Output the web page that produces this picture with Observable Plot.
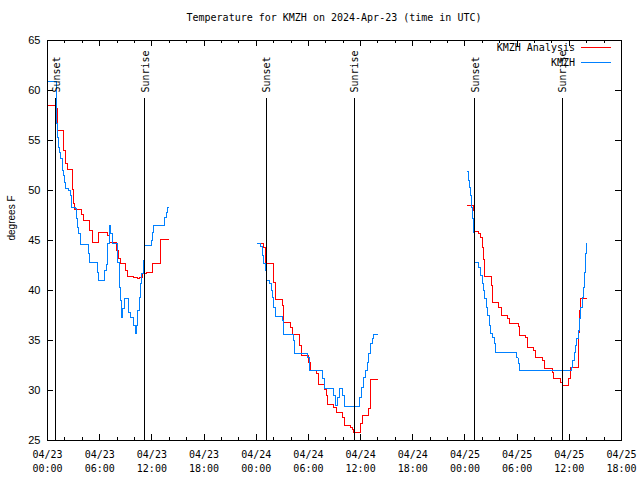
<!DOCTYPE html>
<html><head><meta charset="utf-8">
<script src="https://cdn.jsdelivr.net/npm/d3@7"></script>
<script src="https://cdn.jsdelivr.net/npm/@observablehq/plot@0.6"></script>
<style>
body{margin:0;background:#fff;}
#wrap{position:relative;width:640px;height:480px;}
#title{position:absolute;top:12px;left:47px;width:574px;text-align:center;font:10px "DejaVu Sans Mono",monospace;color:#000;}
.leg{position:absolute;font:10px "DejaVu Sans Mono",monospace;color:#000;text-align:right;width:200px;}
.sw{position:absolute;width:30px;height:0;}
</style></head><body>
<div id="wrap">
</div>
<script>
const titleText = "Temperature for KMZH on 2024-Apr-23 (time in UTC)";
const yLabel = "degrees F";
const xTickHours = [0, 6, 12, 18, 24, 30, 36, 42, 48, 54, 60, 66];
const xTickDates = ["04/23","04/23","04/23","04/23","04/24","04/24","04/24","04/24","04/25","04/25","04/25","04/25"];
const xTickTimes = ["00:00","06:00","12:00","18:00","00:00","06:00","12:00","18:00","00:00","06:00","12:00","18:00"];
const xMinorHours = [2,4,8,10,14,16,20,22,26,28,32,34,38,40,44,46,50,52,56,58,62,64];
const yTicks = [25, 30, 35, 40, 45, 50, 55, 60, 65];
const eventHours = [0.92, 11.15, 25.15, 35.27, 49.13, 59.18];
const eventLabels = ["Sunset", "Sunrise", "Sunset", "Sunrise", "Sunset", "Sunrise"];
const seriesNames = ["KMZH Analysis", "KMZH"];
const seriesColors = ["#ff0000", "#0080ff"];

// [hour since 04/23 00:00 UTC, temperature F]
const analysisDay1 = [[0.15,58.5],[0.92,58.2],[1.2,56.0],[1.87,54.0],[2.1,52.7],[2.26,52.1],[2.84,50.1],[3.03,48.7],[3.14,48.1],[3.87,47.6],[4.17,47.0],[4.86,46.0],[5.14,44.8],[5.9,45.8],[6.86,45.5],[7.13,44.8],[7.93,44.0],[8.13,43.2],[8.39,42.7],[8.97,42.0],[9.16,41.4],[9.92,41.3],[10.31,41.2],[10.61,41.3],[10.89,41.7],[11.38,41.8],[12.04,42.7],[13.0,45.1],[13.86,45.1]];
const obsDay1 = [[0.15,60.9],[1.0,56.7],[1.11,55.3],[1.23,54.3],[1.38,53.8],[1.5,53.2],[1.69,52.0],[1.87,51.5],[1.99,50.8],[2.1,50.2],[2.45,50.0],[2.64,49.5],[2.76,48.3],[3.22,48.2],[3.33,47.2],[3.48,46.3],[3.6,45.7],[3.79,44.6],[4.68,43.7],[4.86,42.8],[5.71,41.8],[5.9,41.0],[6.59,42.0],[6.78,42.6],[6.93,44.7],[7.13,46.5],[7.24,45.7],[7.44,44.7],[8.01,42.8],[8.28,40.3],[8.39,39.0],[8.51,37.3],[8.66,38.2],[8.85,39.2],[9.35,37.8],[9.54,37.3],[9.92,36.5],[10.12,35.7],[10.23,36.5],[10.38,38.0],[10.58,39.3],[10.69,40.7],[10.81,41.7],[11.0,43.0],[11.19,44.5],[11.96,45.0],[12.11,45.8],[12.22,46.5],[13.45,47.3],[13.68,47.8],[13.83,48.3],[13.9,48.3]];
const analysisDay2 = [[24.11,44.7],[24.87,44.3],[25.07,42.7],[25.95,40.8],[26.22,39.1],[26.98,38.5],[27.1,36.8],[27.94,36.3],[28.13,35.6],[29.0,34.5],[29.2,33.5],[30.05,32.8],[30.24,32.0],[30.93,31.7],[31.2,30.6],[31.85,30.1],[32.08,29.5],[32.23,28.6],[32.92,28.3],[33.23,27.8],[33.88,27.3],[34.15,26.5],[34.84,26.3],[35.04,26.1],[35.22,25.8],[35.99,26.7],[36.18,27.5],[36.9,28.2],[37.14,31.1],[37.9,31.1]];
const obsDay2 = [[24.11,44.7],[24.49,44.4],[24.68,43.5],[24.87,42.7],[25.07,42.0],[25.14,41.0],[25.56,40.7],[25.72,40.0],[25.87,39.3],[26.03,38.3],[26.22,37.4],[26.98,37.0],[27.1,35.6],[28.25,35.0],[28.44,33.7],[29.93,33.3],[30.16,32.0],[31.58,31.2],[31.85,30.2],[32.92,29.5],[33.1,28.5],[33.38,29.3],[33.6,30.2],[33.95,29.5],[34.18,28.4],[35.91,29.3],[36.1,30.3],[36.3,31.3],[36.56,32.0],[36.76,32.8],[36.95,33.7],[37.14,34.7],[37.33,35.2],[37.52,35.6],[37.9,35.6]];
const analysisDay3 = [[48.26,48.5],[48.95,48.0],[49.15,45.9],[49.6,45.7],[49.79,45.3],[49.99,44.3],[50.1,43.1],[50.29,41.4],[51.0,40.5],[51.13,38.8],[51.9,38.3],[52.16,37.5],[52.93,37.2],[53.12,36.7],[54.12,36.4],[54.27,35.5],[54.96,35.3],[55.16,34.3],[55.92,34.0],[56.11,33.3],[56.95,33.0],[57.15,32.2],[58.03,31.8],[58.14,31.2],[58.98,30.8],[59.18,30.5],[59.94,31.2],[60.14,32.3],[61.03,33.3],[61.1,35.8],[61.2,38.0],[61.33,39.2],[61.94,39.2]];
const obsDay3 = [[48.26,51.9],[48.37,51.0],[48.52,50.3],[48.64,49.5],[48.76,48.3],[48.83,47.2],[48.95,45.8],[49.07,44.7],[49.15,42.8],[49.6,42.3],[49.79,41.5],[49.99,40.7],[50.13,40.0],[50.29,39.2],[50.44,38.3],[50.63,37.5],[50.79,36.5],[50.94,35.7],[51.2,35.3],[51.36,34.7],[51.51,33.8],[53.93,33.3],[54.1,32.7],[54.27,32.0],[60.25,32.3],[60.4,33.0],[60.56,33.8],[60.71,34.5],[60.86,35.2],[61.03,36.0],[61.17,37.2],[61.33,38.3],[61.48,39.3],[61.6,40.3],[61.71,41.8],[61.83,43.7],[61.94,44.7],[62.0,44.7]];

const mono = "DejaVu Sans Mono, monospace";
const sans = "Liberation Sans, Arial, sans-serif";
const W = 640, H = 480, mL = 47, mR = 19, mT = 40, mB = 40;
const pw = W - mL - mR, ph = H - mT - mB;

const segs = [
  {data: analysisDay1, c: 0}, {data: analysisDay2, c: 0}, {data: analysisDay3, c: 0},
  {data: obsDay1, c: 1}, {data: obsDay2, c: 1}, {data: obsDay3, c: 1}
];

const chart = Plot.plot({
  width: W, height: H,
  marginLeft: mL, marginRight: mR, marginTop: mT, marginBottom: mB,
  style: {background: "#fff", color: "#000"},
  x: {domain: [0, 66]},
  y: {domain: [25, 65]},
  marks: [
    ...segs.map(s => Plot.line(s.data, {x: d => d[0], y: d => d[1], curve: "step-after", stroke: seriesColors[s.c], strokeWidth: 1, shapeRendering: "crispEdges"})),
    Plot.ruleX(eventHours, {x: d => d, insetTop: 58, stroke: "#000", strokeWidth: 1, shapeRendering: "crispEdges"}),
    Plot.text(eventHours, {x: d => d, text: (d, i) => eventLabels[i], frameAnchor: "top", rotate: -90, textAnchor: "start", dy: 52, dx: -3, fontFamily: mono, fontSize: 10, fill: "#000"}),
    Plot.tickX(xTickHours, {x: d => d, insetTop: ph - 6, stroke: "#000", shapeRendering: "crispEdges"}),
    Plot.tickX(xTickHours, {x: d => d, insetBottom: ph - 6, stroke: "#000", shapeRendering: "crispEdges"}),
    Plot.tickX(xMinorHours, {x: d => d, insetTop: ph - 3, stroke: "#000", shapeRendering: "crispEdges"}),
    Plot.tickX(xMinorHours, {x: d => d, insetBottom: ph - 3, stroke: "#000", shapeRendering: "crispEdges"}),
    Plot.tickY(yTicks, {y: d => d, insetRight: pw - 6, stroke: "#000", shapeRendering: "crispEdges"}),
    Plot.tickY(yTicks, {y: d => d, insetLeft: pw - 6, stroke: "#000", shapeRendering: "crispEdges"}),
    Plot.axisY({ticks: yTicks, tickSize: 0, tickPadding: 7, label: null, fontFamily: sans, fontSize: 11}),
    Plot.axisX({ticks: xTickHours, tickSize: 0, tickPadding: 8, label: null, fontFamily: mono, fontSize: 10, lineHeight: 1.4,
      tickFormat: (d) => { const i = xTickHours.indexOf(d); return xTickDates[i] + "\n" + xTickTimes[i]; }}),
    Plot.text([yLabel], {text: d => d, frameAnchor: "left", rotate: -90, dx: -36, fontFamily: sans, fontSize: 10, fill: "#000"}),
    Plot.frame({stroke: "#000", strokeWidth: 1, shapeRendering: "crispEdges"})
  ]
});

const wrap = document.getElementById("wrap");
wrap.appendChild(chart);
const t = document.createElement("div");
t.id = "title"; t.textContent = titleText; wrap.appendChild(t);
seriesNames.forEach((n, i) => {
  const l = document.createElement("div");
  l.className = "leg"; l.textContent = n;
  l.style.left = (575 - 200) + "px"; l.style.top = (42 + i * 15) + "px";
  wrap.appendChild(l);
  const s = document.createElement("div");
  s.className = "sw"; s.style.left = "581px"; s.style.top = (47 + i * 15) + "px";
  s.style.borderTop = "1px solid " + seriesColors[i];
  wrap.appendChild(s);
});
</script>
</body></html>
